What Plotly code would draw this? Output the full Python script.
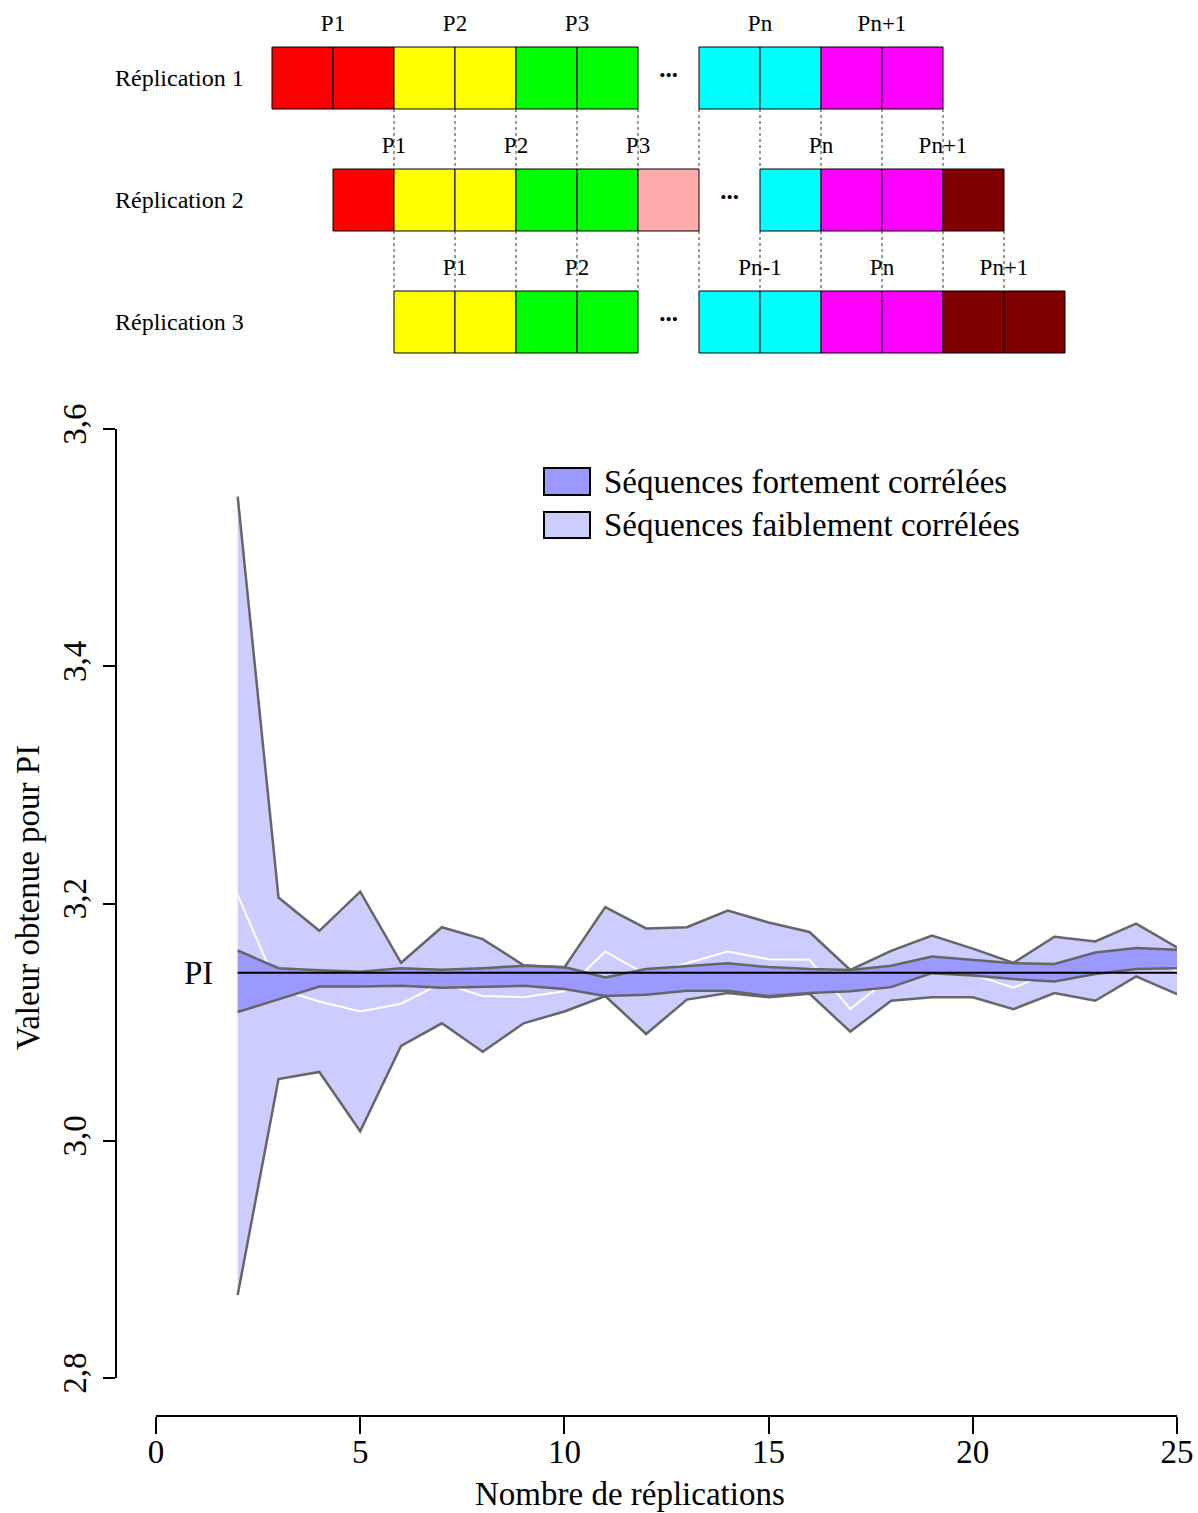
import plotly.graph_objects as go

W, H = 1198, 1513
FONT = "Liberation Serif"

# ---------------- main chart data ----------------
replications = list(range(2, 26))
faible_haut = [3.543, 3.205, 3.177, 3.210, 3.150, 3.180, 3.170, 3.148, 3.146, 3.197,
               3.179, 3.180, 3.194, 3.184, 3.176, 3.144, 3.160, 3.173, 3.162, 3.150,
               3.172, 3.168, 3.183, 3.163]
faible_bas = [2.870, 3.052, 3.058, 3.008, 3.080, 3.099, 3.075, 3.099, 3.109, 3.122,
              3.090, 3.119, 3.1245, 3.121, 3.124, 3.092, 3.118, 3.121, 3.121, 3.111,
              3.1245, 3.118, 3.1385, 3.1236]
faible_moy = [3.207, 3.128, 3.1174, 3.109, 3.1155, 3.133, 3.122, 3.121, 3.126, 3.1596,
              3.140, 3.1497, 3.1596, 3.153, 3.1525, 3.111, 3.138, 3.142, 3.140, 3.129,
              3.143, 3.145, 3.158, 3.143]
forte_haut = [3.1604, 3.1455, 3.1437, 3.1424, 3.1455, 3.1441, 3.1455, 3.1475, 3.1464, 3.1377,
              3.1447, 3.1475, 3.1497, 3.1464, 3.1447, 3.144, 3.1475, 3.1553, 3.1525, 3.1497,
              3.149, 3.1587, 3.1624, 3.161]
forte_bas = [3.1085, 3.1194, 3.130, 3.130, 3.1306, 3.129, 3.130, 3.1306, 3.128, 3.122,
             3.123, 3.1264, 3.1264, 3.122, 3.1245, 3.126, 3.1295, 3.1413, 3.1393, 3.1363,
             3.1343, 3.1405, 3.1447, 3.1455]
PI_VALUE = 3.141592653589793
pi_span = [2, 25]

x_ticks = [0, 5, 10, 15, 20, 25]
y_ticks = [2.8, 3.0, 3.2, 3.4, 3.6]
y_ticktext = ["2,8", "3,0", "3,2", "3,4", "3,6"]

legend_labels = ["Séquences fortement corrélées", "Séquences faiblement corrélées"]
COL_FORTE = "#9999FF"
COL_FAIBLE = "#CCCCFF"
COL_EDGE = "#666666"

# ---------------- diagram data ----------------
RED, YEL, GRN, PNK, CYA, MAG, MAR = "#FF0000", "#FFFF00", "#00FF00", "#FFAAAA", "#00FFFF", "#FF00FF", "#800000"
rep_names = ["Réplication 1", "Réplication 2", "Réplication 3"]
rep_start = [0, 1, 2]
rep_cells = [
    [RED, RED, YEL, YEL, GRN, GRN, None, CYA, CYA, MAG, MAG],
    [RED, YEL, YEL, GRN, GRN, PNK, None, CYA, MAG, MAG, MAR],
    [YEL, YEL, GRN, GRN, None, CYA, CYA, MAG, MAG, MAR, MAR],
]
rep_labels = [
    ["P1", "P2", "P3", "Pn", "Pn+1"],
    ["P1", "P2", "P3", "Pn", "Pn+1"],
    ["P1", "P2", "Pn-1", "Pn", "Pn+1"],
]
rep_label_pos = [
    [1, 3, 5, 8, 10],
    [2, 4, 6, 9, 11],
    [3, 5, 8, 10, 12],
]
# dotted guides: (row above, list of boundaries)
guide_bounds = [
    (1, list(range(2, 12))),
    (2, list(range(2, 13))),
]

fig = go.Figure()

# ---------- diagram ----------
BAR_W = 0.508
for r, (start, cells) in enumerate(zip(rep_start, rep_cells), start=1):
    bases, cols = [], []
    for i, c in enumerate(cells):
        if c is None:
            continue
        bases.append(start + i)
        cols.append(c)
    fig.add_trace(go.Bar(
        orientation="h", y=[r] * len(bases), x=[1] * len(bases), base=bases,
        width=BAR_W, marker=dict(color=cols, line=dict(color="black", width=1)),
        xaxis="x2", yaxis="y2", showlegend=False, hoverinfo="skip"))

gx, gy = [], []
for row, bounds in guide_bounds:
    for b in bounds:
        gx += [b, b, None]
        gy += [row + BAR_W / 2, row + 1 - BAR_W / 2, None]
fig.add_trace(go.Scatter(x=gx, y=gy, mode="lines", xaxis="x2", yaxis="y2",
                         line=dict(color="#333333", width=1, dash="dot"),
                         showlegend=False, hoverinfo="skip"))

lx, ly, lt = [], [], []
for r, (labs, pos) in enumerate(zip(rep_labels, rep_label_pos), start=1):
    for t, p in zip(labs, pos):
        lx.append(p)
        ly.append(r - 0.434)
        lt.append(t)
fig.add_trace(go.Scatter(x=lx, y=ly, text=lt, mode="text", xaxis="x2", yaxis="y2",
                         textfont=dict(family=FONT, size=23, color="black"),
                         showlegend=False, hoverinfo="skip"))

dx, dy = [], []
for r, (start, cells) in enumerate(zip(rep_start, rep_cells), start=1):
    for i, c in enumerate(cells):
        if c is None:
            dx.append(start + i + 0.5)
            dy.append(r - 0.06)
fig.add_trace(go.Scatter(x=dx, y=dy, text=["<b>...</b>"] * len(dx), mode="text",
                         xaxis="x2", yaxis="y2",
                         textfont=dict(family=FONT, size=25, color="black"),
                         showlegend=False, hoverinfo="skip"))

annotations = []
for r, name in enumerate(rep_names, start=1):
    annotations.append(dict(x=-0.43, y=r, xref="x2", yref="y2", text=name,
                            xanchor="right", yanchor="middle", showarrow=False,
                            font=dict(family=FONT, size=24, color="black")))

# ---------- main chart ----------
fig.add_trace(go.Scatter(x=replications + replications[::-1],
                         y=faible_haut + faible_bas[::-1], fill="toself",
                         fillcolor=COL_FAIBLE, line=dict(width=0), mode="lines",
                         showlegend=False, hoverinfo="skip"))
fig.add_trace(go.Scatter(x=replications, y=faible_moy, mode="lines",
                         line=dict(color="white", width=2), showlegend=False))
fig.add_trace(go.Scatter(x=replications + replications[::-1],
                         y=forte_haut + forte_bas[::-1], fill="toself",
                         fillcolor=COL_FORTE, line=dict(width=0), mode="lines",
                         showlegend=False, hoverinfo="skip"))
for serie in (faible_haut, faible_bas, forte_haut, forte_bas):
    fig.add_trace(go.Scatter(x=replications, y=serie, mode="lines",
                             line=dict(color=COL_EDGE, width=2.5), showlegend=False))
fig.add_trace(go.Scatter(x=pi_span, y=[PI_VALUE, PI_VALUE], mode="lines",
                         line=dict(color="black", width=2), showlegend=False))


def px_x(p):
    return p / W


def px_y(p):
    return 1 - p / H


# PI label
annotations.append(dict(x=1.03, y=PI_VALUE, xref="x", yref="y", text="PI",
                        showarrow=False, xanchor="center", yanchor="middle",
                        font=dict(family=FONT, size=33, color="black")))
# axis titles
annotations.append(dict(x=px_x(630), y=px_y(1494), xref="paper", yref="paper",
                        text="Nombre de réplications", showarrow=False,
                        xanchor="center", yanchor="middle",
                        font=dict(family=FONT, size=33, color="black")))
annotations.append(dict(x=px_x(28), y=px_y(898), xref="paper", yref="paper",
                        text="Valeur obtenue pour PI", showarrow=False, textangle=-90,
                        xanchor="center", yanchor="middle",
                        font=dict(family=FONT, size=33, color="black")))

# custom legend
shapes = []
leg_rows = [(468, 495, COL_FORTE), (512, 538, COL_FAIBLE)]
for (y0, y1, col), lab in zip(leg_rows, legend_labels):
    shapes.append(dict(type="rect", xref="paper", yref="paper",
                       x0=px_x(544), x1=px_x(590), y0=px_y(y1), y1=px_y(y0),
                       fillcolor=col, line=dict(color="black", width=2)))
    annotations.append(dict(x=px_x(602), y=px_y((y0 + y1) / 2), xref="paper", yref="paper",
                            text=lab, showarrow=False, xanchor="left", yanchor="middle",
                            font=dict(family=FONT, size=33, color="black")))

# diagram axis ranges (pixel-based layout of the schematic)
U0, UW = 272, 61
R1, RP = 78, 122
DIAG_BOTTOM = 370

fig.update_layout(
    width=W, height=H,
    margin=dict(l=0, r=0, t=0, b=0),
    paper_bgcolor="white", plot_bgcolor="rgba(0,0,0,0)",
    barmode="overlay",
    showlegend=False,
    font=dict(family=FONT, color="black"),
    xaxis=dict(domain=[px_x(156), px_x(1177)], range=[0, 25], anchor="free",
               position=px_y(1416), showline=True, linecolor="black", linewidth=2,
               ticks="outside", ticklen=17, tickwidth=2, tickcolor="black",
               tickvals=x_ticks, tickfont=dict(family=FONT, size=33, color="black"),
               ticklabelstandoff=-11,
               showgrid=False, zeroline=False, automargin=False),
    yaxis=dict(domain=[px_y(1378), px_y(429)], range=[2.8, 3.6], anchor="free",
               position=px_x(116), showline=True, linecolor="black", linewidth=2,
               ticks="outside", ticklen=12, tickwidth=2, tickcolor="black",
               tickvals=y_ticks, ticktext=y_ticktext, tickangle=-90,
               ticklabelstandoff=4,
               tickfont=dict(family=FONT, size=33, color="black"),
               showgrid=False, zeroline=False, automargin=False),
    xaxis2=dict(domain=[0, 1], range=[-U0 / UW, (W - U0) / UW], anchor="y2",
                visible=False, fixedrange=True),
    yaxis2=dict(domain=[px_y(DIAG_BOTTOM), 1],
                range=[1 + (DIAG_BOTTOM - R1) / RP, 1 - R1 / RP], anchor="x2",
                visible=False, fixedrange=True),
    annotations=annotations,
    shapes=shapes,
)

fig.write_html("out.html", config={"displayModeBar": False},
               post_script="document.body.style.margin='0';document.body.style.overflow='hidden';")
